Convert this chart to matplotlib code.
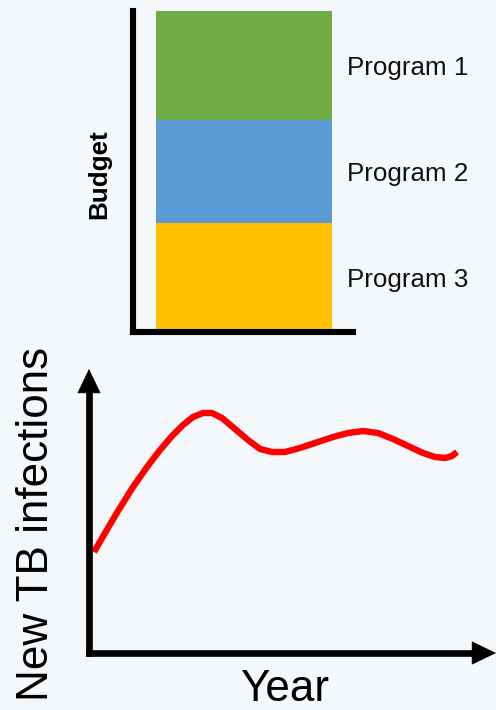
import matplotlib.pyplot as plt

plt.rcParams['font.family'] = ['Liberation Sans', 'DejaVu Sans']

# budget split (stacked bottom to top: Program 3, Program 2, Program 1)
programs = ["Program 3", "Program 2", "Program 1"]
budget = [34, 32, 34]
bar_colors = ["#FFC000", "#5B9BD5", "#70AD47"]

# new TB infections over time (arbitrary units)
years = [0.5, 1.6, 2.9, 4.4, 5.8, 7.1, 8.3, 9.4, 10.4, 11.4, 12.3, 13.3,
         14.6, 15.9, 17.1, 18.3, 19.6, 21.1, 22.9, 24.4, 25.9, 27.4, 28.9,
         30.4, 31.9, 33.4, 34.6, 35.6, 36.3, 36.8]
infections = [10.1, 12.0, 14.2, 16.6, 18.6, 20.3, 21.7, 22.8, 23.6, 24.0,
              24.0, 23.5, 22.4, 21.3, 20.4, 20.1, 20.1, 20.5, 21.1, 21.6,
              22.0, 22.2, 22.0, 21.4, 20.7, 20.0, 19.6, 19.5, 19.7, 20.1]

W, H = 496, 710
bg = "#f4f8fb"
fig = plt.figure(figsize=(W / 100, H / 100), dpi=100, facecolor=bg)

# ---- budget bar ----
ax1 = fig.add_axes([133 / W, 1 - 332 / H, 220 / W, 321 / H])
ax1.set_facecolor("none")
bottom = 0
for name, val, col in zip(programs, budget, bar_colors):
    ax1.bar(0, val, width=0.8, bottom=bottom, color=col, linewidth=0)
    ax1.text(0.468, bottom + val / 2 - 0.8, name, fontsize=18.7,
             color="#111111", ha="left", va="center", clip_on=False)
    bottom += val
ax1.set_xlim(-0.505, 0.495)
ax1.set_ylim(0, sum(budget))
for s in ["top", "right"]:
    ax1.spines[s].set_visible(False)
for s in ["left", "bottom"]:
    ax1.spines[s].set_linewidth(4.4)
    ax1.spines[s].set_color("black")
ax1.set_xticks([])
ax1.set_yticks([])
fig.text(99 / W, 1 - 174 / H, "Budget", rotation=90, fontsize=18.7,
         fontweight="bold", ha="center", va="center")

# ---- infections line ----
ax2 = fig.add_axes([89 / W, 1 - 653 / H, (W - 89) / W, (653 - 369) / H])
ax2.set_facecolor("none")
ax2.plot(years, infections, color="#ff0000", lw=4.6, solid_capstyle="butt",
         solid_joinstyle="round")
ax2.set_xlim(0, (W - 89) / 10)
ax2.set_ylim(0, (653 - 369) / 10)
for s in ax2.spines.values():
    s.set_visible(False)
ax2.set_xticks([])
ax2.set_yticks([])

# axis arrows
ax2.plot([0, 0], [0, 0.95], transform=ax2.transAxes, color="black", lw=4.8,
         solid_capstyle="projecting", clip_on=False)
ax2.plot([0, 0.97], [0, 0], transform=ax2.transAxes, color="black", lw=4.8,
         solid_capstyle="projecting", clip_on=False)
head = dict(arrowstyle="-|>,head_length=0.83,head_width=0.4", mutation_scale=20,
            lw=0.5, fc="black", ec="black", shrinkA=0, shrinkB=0)
ax2.annotate("", xy=(0, 1), xytext=(0, 0.9), xycoords="axes fraction",
             arrowprops=head)
ax2.annotate("", xy=(1, 0), xytext=(0.9, 0), xycoords="axes fraction",
             arrowprops=head)

fig.text(36.6 / W, 1 - 524 / H, "New TB infections", rotation=90,
         fontsize=31.7, ha="center", va="center")
fig.text(285 / W, 0.0, "Year", fontsize=31.7, ha="center", va="bottom")

fig.savefig("out.png", dpi=100, facecolor=bg)
